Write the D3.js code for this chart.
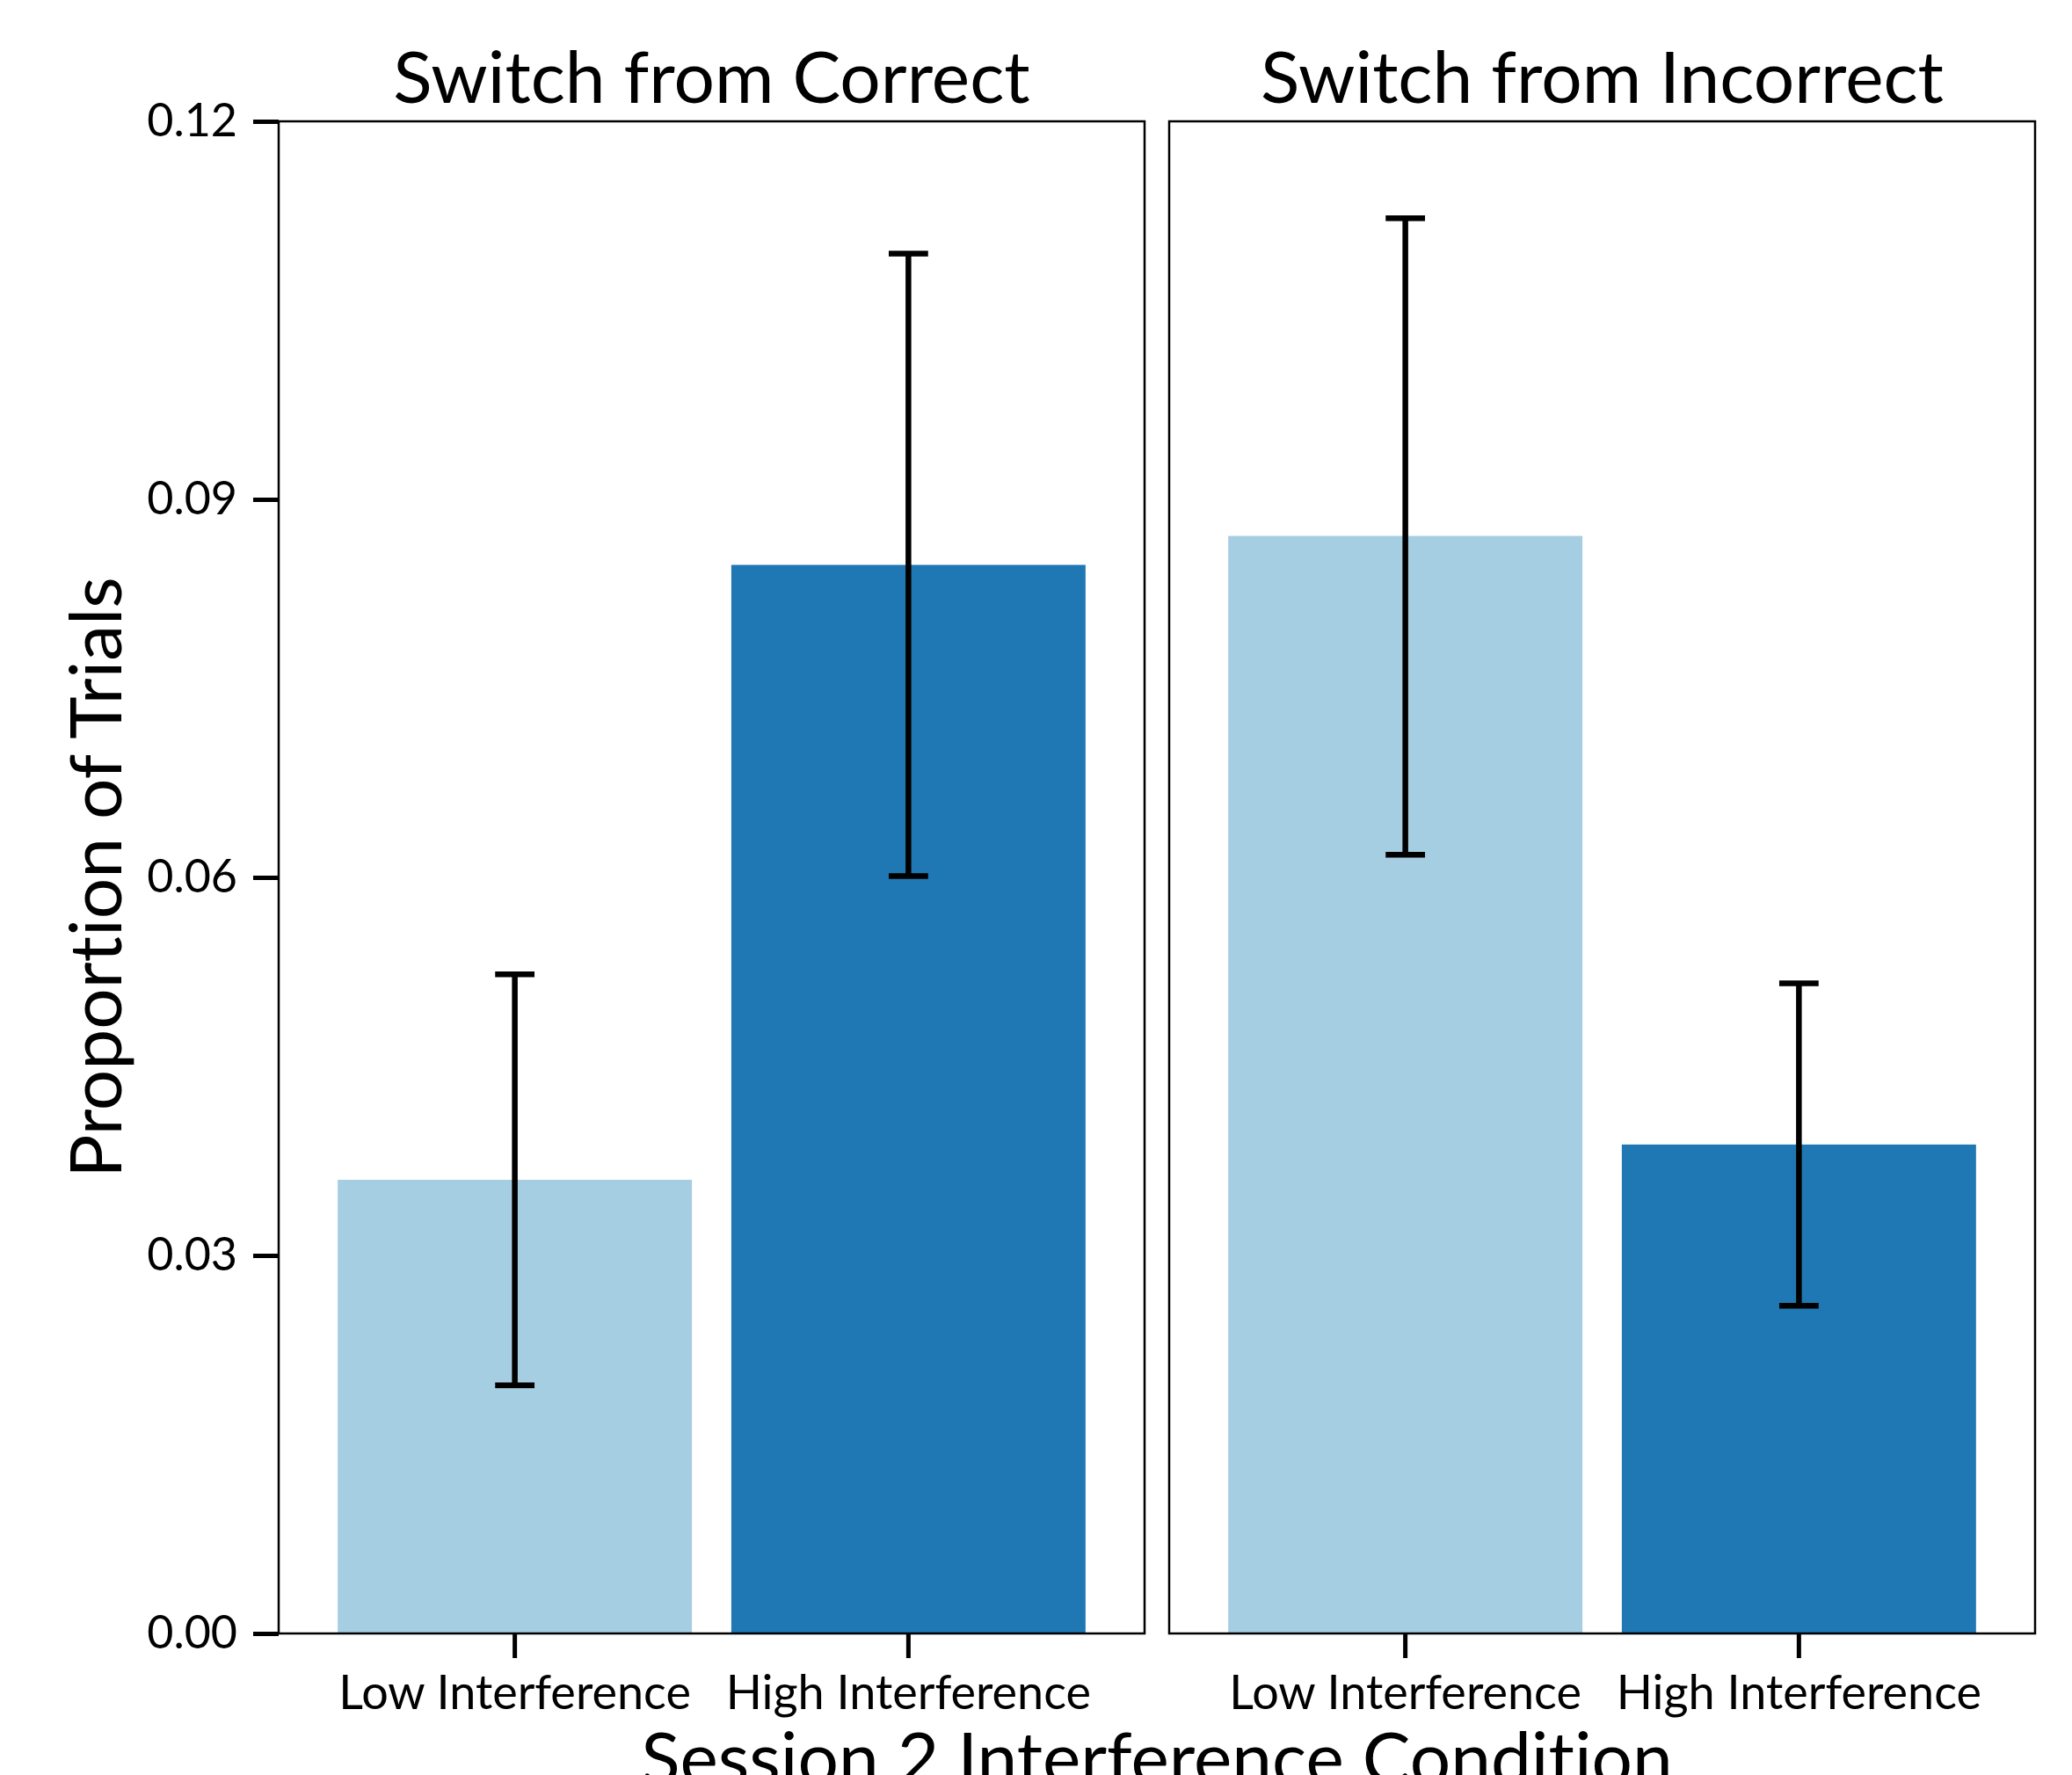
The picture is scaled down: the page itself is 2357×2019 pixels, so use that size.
<!DOCTYPE html>
<html>
<head>
<meta charset="utf-8">
<script src="https://cdn.jsdelivr.net/npm/d3@7"></script>
<style>
  html, body { margin: 0; padding: 0; background: #fff; }
  svg { display: block; }
  text { font-family: Lato, "Noto Sans", sans-serif; fill: #000; font-variant-ligatures: none; }
</style>
</head>
<body>
<svg id="chart" width="2357" height="2019"></svg>
<script>
// ---- data ----
const facets = ["Switch from Correct", "Switch from Incorrect"];
const categories = ["Low Interference", "High Interference"];
const meanValues = [[0.0360, 0.0848], [0.0871, 0.0388]];
const lowerValues = [[0.0197, 0.0601], [0.0618, 0.0260]];
const upperValues = [[0.0523, 0.1095], [0.1123, 0.0516]];
const yTicks = [0.00, 0.03, 0.06, 0.09, 0.12];
const colors = ["#a6cee3", "#1f78b4"];

// ---- layout ----
const plotTop = 138, plotBottom = 1858;
const panelLeft = [317, 1330];
const panelW = 985;

const svg = d3.select("#chart");

const y = d3.scaleLinear().domain([0, 0.12]).range([plotBottom, plotTop]);

facets.forEach((facet, fi) => {
  const x0 = panelLeft[fi];
  const x = d3.scaleBand().domain(categories)
    .range([x0, x0 + panelW]).paddingInner(0.1).paddingOuter(0.15);
  const g = svg.append("g");

  const rows = categories.map((c, ci) => ({
    cat: c, ci, mean: meanValues[fi][ci], lo: lowerValues[fi][ci], hi: upperValues[fi][ci]
  }));

  // bars
  g.selectAll("rect.bar").data(rows).enter().append("rect")
    .attr("class", "bar")
    .attr("x", d => x(d.cat))
    .attr("width", x.bandwidth())
    .attr("y", d => y(d.mean))
    .attr("height", d => y(0) - y(d.mean))
    .attr("fill", d => colors[d.ci]);

  // error bars
  const capW = x.step() * 0.1;
  const eb = g.selectAll("g.eb").data(rows).enter().append("g").attr("class", "eb");
  eb.append("line")
    .attr("x1", d => x(d.cat) + x.bandwidth() / 2)
    .attr("x2", d => x(d.cat) + x.bandwidth() / 2)
    .attr("y1", d => y(d.lo)).attr("y2", d => y(d.hi))
    .attr("stroke", "#000").attr("stroke-width", 6.5);
  ["lo", "hi"].forEach(k => {
    eb.append("line")
      .attr("x1", d => x(d.cat) + x.bandwidth() / 2 - capW / 2)
      .attr("x2", d => x(d.cat) + x.bandwidth() / 2 + capW / 2)
      .attr("y1", d => y(d[k])).attr("y2", d => y(d[k]))
      .attr("stroke", "#000").attr("stroke-width", 6.5);
  });

  // frame
  g.append("rect")
    .attr("x", x0).attr("y", plotTop)
    .attr("width", panelW).attr("height", plotBottom - plotTop)
    .attr("fill", "none").attr("stroke", "#000").attr("stroke-width", 2.5);

  // bottom axis
  const xa = g.append("g").attr("transform", `translate(0,${plotBottom})`)
    .call(d3.axisBottom(x).tickSize(28).tickPadding(20));
  xa.select(".domain").remove();
  xa.selectAll(".tick line").attr("stroke", "#000").attr("stroke-width", 5);
  xa.selectAll(".tick text").attr("font-size", 54).attr("fill", "#000")
    .attr("font-family", "Lato, 'Noto Sans', sans-serif");

  // panel title
  g.append("text")
    .attr("x", x0 + panelW / 2).attr("y", 117)
    .attr("text-anchor", "middle").attr("font-size", 82)
    .text(facet);

  // left axis for first panel
  if (fi === 0) {
    const ya = g.append("g").attr("transform", `translate(${x0},0)`)
      .call(d3.axisLeft(y).tickValues(yTicks).tickFormat(d3.format(".2f")).tickSize(29).tickPadding(18));
    ya.select(".domain").remove();
    ya.selectAll(".tick line").attr("stroke", "#000").attr("stroke-width", 5);
    ya.selectAll(".tick text").attr("font-size", 52).attr("fill", "#000")
      .attr("font-family", "Lato, 'Noto Sans', sans-serif");
  }
});

// axis titles
svg.append("text")
  .attr("transform", `translate(138,${(plotTop + plotBottom) / 2}) rotate(-90)`)
  .attr("text-anchor", "middle").attr("font-size", 82)
  .text("Proportion of Trials");

svg.append("text")
  .attr("x", (panelLeft[0] + panelLeft[1] + panelW) / 2).attr("y", 2029)
  .attr("text-anchor", "middle").attr("font-size", 82)
  .text("Session 2 Interference Condition");
</script>
</body>
</html>
